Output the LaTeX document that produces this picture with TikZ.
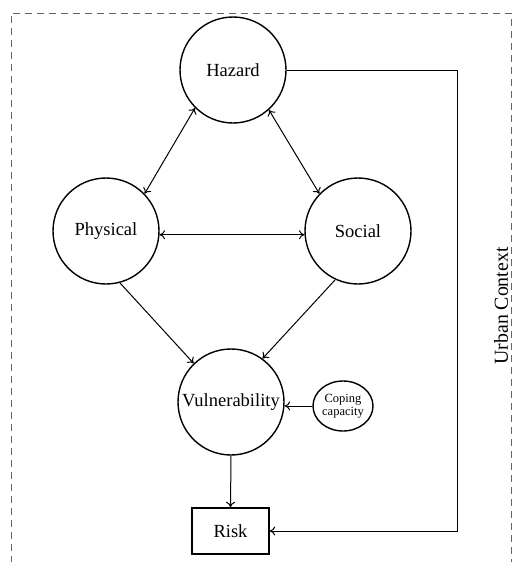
\documentclass[tikz,border=0pt]{standalone}
\usepackage{fontspec}
\setmainfont{Liberation Serif}
\usetikzlibrary{arrows.meta,shapes.geometric}
\begin{document}
\begin{tikzpicture}[x=1pt,y=-1pt,
  circ/.style={draw, circle, line width=1.4pt, minimum size=106pt, inner sep=0pt,
    font=\fontsize{18.5}{21}\selectfont},
  tip/.tip={To[length=5.5pt,width=9pt]},
  conn/.style={line width=1pt, -tip},
  both/.style={line width=1pt, tip-tip}]
\useasboundingbox (0,0) rectangle (513,562);
% dashed frame of the urban context
\draw[gray!80!black, line width=1pt, dash pattern=on 7pt off 5pt]
  (11,575) -- (11,13) -- (511,13) -- (511,575);

\node[circ] (haz) at (233,70) {Hazard};
\node[circ] (phys) at (106,231) {Physical};
\node[circ] (soc) at (358,231) {Social};
\node[circ] (vul) at (231,402) {Vulnerability};
\node[draw, ellipse, line width=1.4pt, minimum width=60pt, minimum height=50pt, inner sep=0pt,
  align=center, font=\fontsize{12.5}{13}\selectfont] (cope) at (343,406) {Coping\\capacity};
\node[draw, rectangle, line width=1.4pt, minimum width=77pt, minimum height=46pt,
  font=\fontsize{18.5}{21}\selectfont] (risk) at (230.5,531) {Risk};
\node[rotate=90, font=\fontsize{19.8}{23}\selectfont] (urban) at (501,306) {Urban Context};

\draw[both] (haz.225) -- (phys.44);
\draw[both] (haz.-48) -- (soc.136);
\draw[both] (phys.-4) -- (soc.184);
\draw[conn] (phys.-75) -- (vul.134);
\draw[conn] (soc.-115) -- (vul.54);
\draw[conn] (cope.west) -- (vul.east |- cope.west);
\draw[conn] (vul.south) -- (risk.north);

\coordinate (uc) at (457,0);
\draw[conn] (haz.east) -- (haz.east -| uc) -- (risk.east -| uc) -- (risk.east);
\end{tikzpicture}
\end{document}
